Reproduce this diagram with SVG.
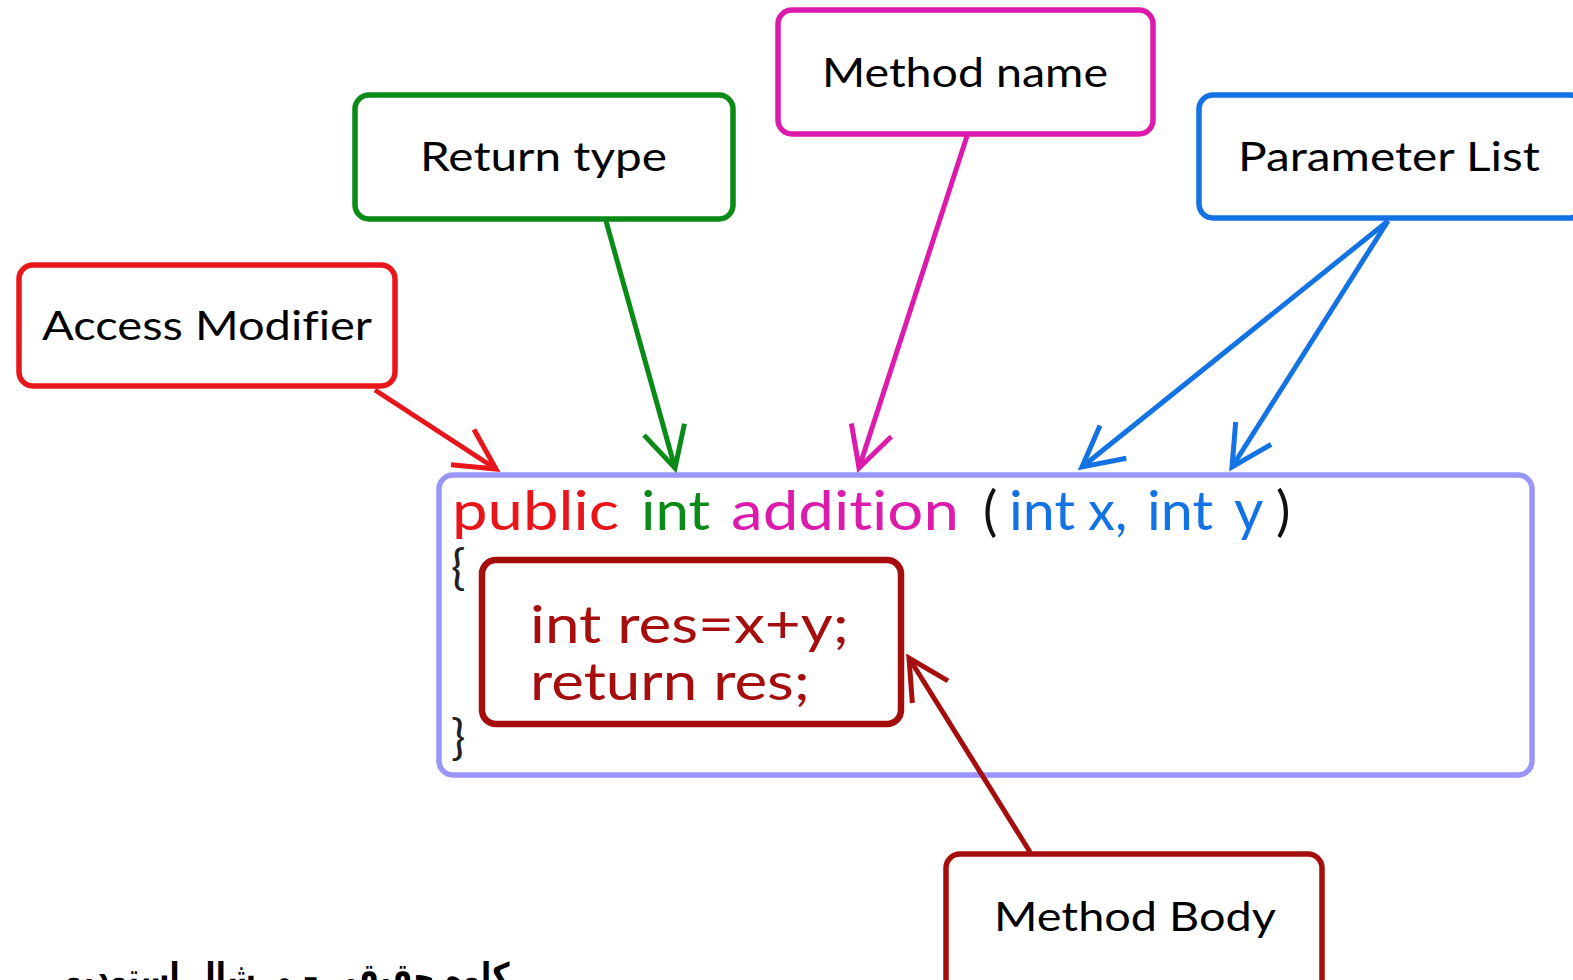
<svg xmlns="http://www.w3.org/2000/svg" width="1573" height="980" viewBox="0 0 1573 980">
<style>
.box{fill:#fff;stroke-width:5.5}
.lbl{font-family:Lato,"Liberation Sans",sans-serif;font-size:40px;fill:#000;font-variant-ligatures:none}
.code{font-family:Lato,"Liberation Sans",sans-serif;font-size:54px;font-variant-ligatures:none}
.cd{font-family:Lato,"Liberation Sans",sans-serif;font-size:52px;fill:#a60d0d;font-variant-ligatures:none}
.ln{fill:none;stroke-width:5}
</style>
<defs>
<marker id="mRed" markerUnits="userSpaceOnUse" orient="auto" overflow="visible" refX="0" refY="0" markerWidth="1" markerHeight="1"><path d="M-40,-21 L0,0 L-40,21" fill="none" stroke="#e8161b" stroke-width="5"/></marker>
<marker id="mGreen" markerUnits="userSpaceOnUse" orient="auto" overflow="visible" refX="0" refY="0" markerWidth="1" markerHeight="1"><path d="M-40,-21 L0,0 L-40,21" fill="none" stroke="#0a8a17" stroke-width="5"/></marker>
<marker id="mMag" markerUnits="userSpaceOnUse" orient="auto" overflow="visible" refX="0" refY="0" markerWidth="1" markerHeight="1"><path d="M-40,-21 L0,0 L-40,21" fill="none" stroke="#dc1aab" stroke-width="5"/></marker>
<marker id="mBlue" markerUnits="userSpaceOnUse" orient="auto" overflow="visible" refX="0" refY="0" markerWidth="1" markerHeight="1"><path d="M-40,-21 L0,0 L-40,21" fill="none" stroke="#1372e4" stroke-width="5"/></marker>
<marker id="mDark" markerUnits="userSpaceOnUse" orient="auto" overflow="visible" refX="0" refY="0" markerWidth="1" markerHeight="1"><path d="M-40,-21 L0,0 L-40,21" fill="none" stroke="#a60d0d" stroke-width="5"/></marker>
</defs>
<rect width="1573" height="980" fill="#fff"/>

<g id="code-box">
<rect x="439" y="475" width="1093" height="300" rx="14" fill="#fff" stroke="#9a95f9" stroke-width="5.5"/>
<text class="code" x="452" y="530" fill="#e8161b" textLength="167" lengthAdjust="spacingAndGlyphs">public</text>
<text class="code" x="641" y="530" fill="#0a8a17" textLength="69" lengthAdjust="spacingAndGlyphs">int</text>
<text class="code" x="731" y="530" fill="#dc1aab" textLength="228" lengthAdjust="spacingAndGlyphs">addition</text>
<text class="code" x="983" y="530" fill="#111">(</text>
<text class="code" x="1009" y="530" fill="#1372e4" textLength="66" lengthAdjust="spacingAndGlyphs">int</text>
<text class="code" x="1088" y="530" fill="#1372e4">x,</text>
<text class="code" x="1147" y="530" fill="#1372e4" textLength="66" lengthAdjust="spacingAndGlyphs">int</text>
<text class="code" x="1234" y="530" fill="#1372e4" style="font-size:57px">y</text>
<text class="code" x="1276" y="530" fill="#111">)</text>
<text class="code" x="451" y="584" fill="#222" style="font-size:48px">{</text>
<text class="code" x="451" y="754" fill="#222" style="font-size:48px">}</text>
</g>

<g id="method-body-code">
<rect x="482" y="560" width="419" height="164" rx="14" fill="#fff" stroke="#a60d0d" stroke-width="6.5"/>
<text class="cd" x="530" y="643" textLength="319" lengthAdjust="spacingAndGlyphs">int res=x+y;</text>
<text class="cd" x="530" y="700" textLength="280" lengthAdjust="spacingAndGlyphs">return res;</text>
</g>

<g id="access-modifier">
<rect class="box" x="19" y="265" width="376" height="121" rx="14" stroke="#e8161b"/>
<text class="lbl" x="42" y="340" textLength="330" lengthAdjust="spacingAndGlyphs">Access Modifier</text>
</g>

<g id="return-type">
<rect class="box" x="355" y="95" width="378" height="124" rx="14" stroke="#0a8a17"/>
<text class="lbl" x="420" y="171" textLength="247" lengthAdjust="spacingAndGlyphs">Return type</text>
</g>

<g id="method-name">
<rect class="box" x="778" y="10" width="375" height="124" rx="14" stroke="#dc1aab"/>
<text class="lbl" x="822" y="87" textLength="286" lengthAdjust="spacingAndGlyphs">Method name</text>
</g>

<g id="parameter-list">
<rect class="box" x="1199" y="95" width="385" height="123" rx="14" stroke="#1372e4"/>
<text class="lbl" x="1238" y="171" textLength="302" lengthAdjust="spacingAndGlyphs">Parameter List</text>
</g>

<g id="method-body">
<rect class="box" x="946" y="854" width="376" height="140" rx="14" stroke="#a60d0d"/>
<text class="lbl" x="994" y="931" textLength="282" lengthAdjust="spacingAndGlyphs">Method Body</text>
</g>

<g id="connectors">
<line class="ln" x1="375" y1="390" x2="496" y2="469" stroke="#e8161b" marker-end="url(#mRed)"/>
<line class="ln" x1="606" y1="221" x2="675" y2="468" stroke="#0a8a17" marker-end="url(#mGreen)"/>
<line class="ln" x1="967" y1="136" x2="859" y2="468" stroke="#dc1aab" marker-end="url(#mMag)"/>
<line class="ln" x1="1388" y1="221" x2="1082" y2="467" stroke="#1372e4" marker-end="url(#mBlue)"/>
<line class="ln" x1="1388" y1="221" x2="1232" y2="467" stroke="#1372e4" marker-end="url(#mBlue)"/>
<line class="ln" x1="1030" y1="852" x2="909" y2="658" stroke="#a60d0d" marker-end="url(#mDark)"/>
</g>

<text x="287" y="990" text-anchor="middle" font-family="'DejaVu Sans',sans-serif" font-weight="bold" font-size="38" fill="#000" textLength="445" lengthAdjust="spacingAndGlyphs">کاوه حقیقی – مرشال استودیو</text>
</svg>
